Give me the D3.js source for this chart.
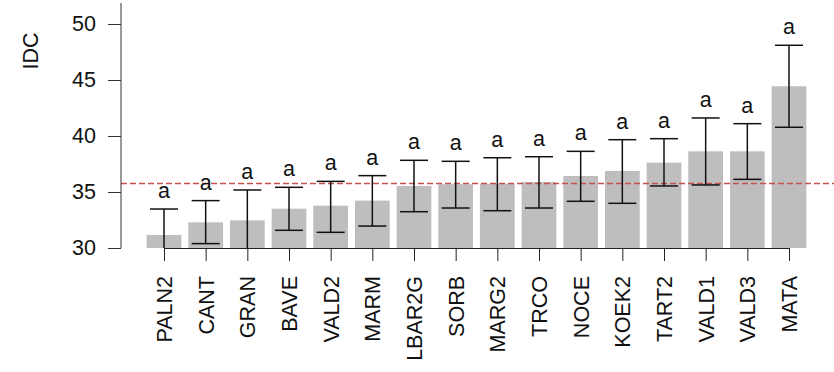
<!DOCTYPE html>
<html>
<head>
<meta charset="utf-8">
<script src="https://cdn.jsdelivr.net/npm/d3@7"></script>
<style>
  html, body { margin: 0; padding: 0; background: #fff; }
  svg { display: block; }
  text { font-family: "Liberation Sans", Arial, sans-serif; fill: #111; }
</style>
</head>
<body>
<svg id="chart" width="834" height="372"></svg>
<script>
const categories = ["PALN2","CANT","GRAN","BAVE","VALD2","MARM","LBAR2G","SORB","MARG2","TRCO","NOCE","KOEK2","TART2","VALD1","VALD3","MATA"];
const means = [31.16, 32.29, 32.47, 33.51, 33.78, 34.23, 35.54, 35.70, 35.72, 35.89, 36.43, 36.88, 37.62, 38.63, 38.63, 44.44];
const upper = [33.48, 34.23, 35.18, 35.42, 35.95, 36.46, 37.83, 37.74, 38.06, 38.15, 38.63, 39.67, 39.76, 41.61, 41.10, 48.10];
const lower = [28.84, 30.39, 29.76, 31.58, 31.40, 31.96, 33.24, 33.57, 33.33, 33.57, 34.17, 33.99, 35.54, 35.63, 36.13, 40.78];
const groups = ["a","a","a","a","a","a","a","a","a","a","a","a","a","a","a","a"];
const yTicks = [30, 35, 40, 45, 50];
const refLine = 35.77;
const yLabel = "IDC";

const svg = d3.select("#chart");
const W = 834;
const axisX = 121;
const yMin = 30, yMax = 50;
const FS = 21.5;

const y = d3.scaleLinear().domain([yMin, yMax]).range([248, 24]);
const x = d3.scalePoint().domain(categories).range([164, 789]);
const barW = x.step() / 1.2;
const capHalf = 14;

const data = categories.map((c, i) => ({c, m: means[i], hi: upper[i], lo: lower[i], g: groups[i]}));

// bars
svg.append("g").selectAll("rect").data(data).join("rect")
  .attr("x", d => x(d.c) - barW / 2)
  .attr("width", barW)
  .attr("y", d => y(d.m))
  .attr("height", d => y(yMin) - y(d.m))
  .attr("fill", "#bebebe");

// reference dashed line
svg.append("line")
  .attr("x1", axisX).attr("x2", W)
  .attr("y1", y(refLine)).attr("y2", y(refLine))
  .attr("stroke", "#c8504a").attr("stroke-width", 1.5)
  .attr("stroke-dasharray", "6,3");

// error bars
const clipLo = v => Math.max(v, yMin);
const eb = svg.append("g").attr("stroke", "#111").attr("stroke-width", 1.5);
data.forEach(d => {
  eb.append("line").attr("x1", x(d.c)).attr("x2", x(d.c)).attr("y1", y(d.hi)).attr("y2", y(clipLo(d.lo)));
  eb.append("line").attr("x1", x(d.c) - capHalf).attr("x2", x(d.c) + capHalf).attr("y1", y(d.hi)).attr("y2", y(d.hi));
  if (d.lo >= yMin) {
    eb.append("line").attr("x1", x(d.c) - capHalf).attr("x2", x(d.c) + capHalf).attr("y1", y(d.lo)).attr("y2", y(d.lo));
  }
});

// group letters
svg.append("g").selectAll("text").data(data).join("text")
  .attr("x", d => x(d.c))
  .attr("y", d => y(d.hi) - 11)
  .attr("text-anchor", "middle")
  .attr("font-size", FS)
  .text(d => d.g);

// y axis
const yAxis = svg.append("g").attr("transform", `translate(${axisX},0)`)
  .call(d3.axisLeft(y).tickValues(yTicks).tickSize(13).tickPadding(12).tickSizeOuter(0));
yAxis.select(".domain").remove();
yAxis.selectAll("line").attr("stroke", "#333");
yAxis.selectAll("text").attr("font-size", FS).attr("fill", "#111")
  .attr("font-family", "Liberation Sans, Arial, sans-serif");
yAxis.append("line").attr("x1", 0).attr("x2", 0).attr("y1", 3).attr("y2", y(yMin)).attr("stroke", "#333");

// y label
svg.append("text")
  .attr("transform", `translate(38,51) rotate(-90)`)
  .attr("text-anchor", "middle")
  .attr("font-size", FS)
  .text(yLabel);

// x axis
const xAxis = svg.append("g").attr("transform", `translate(0,${y(yMin)})`)
  .call(d3.axisBottom(x).tickSize(13).tickSizeOuter(0));
xAxis.select(".domain").attr("stroke", "#222");
xAxis.selectAll("line").attr("stroke", "#222");
xAxis.selectAll("text").remove();

svg.append("g").selectAll("text").data(categories).join("text")
  .attr("transform", c => `translate(${x(c) + 8},276) rotate(-90)`)
  .attr("text-anchor", "end")
  .attr("font-size", FS)
  .text(c => c);
</script>
</body>
</html>
